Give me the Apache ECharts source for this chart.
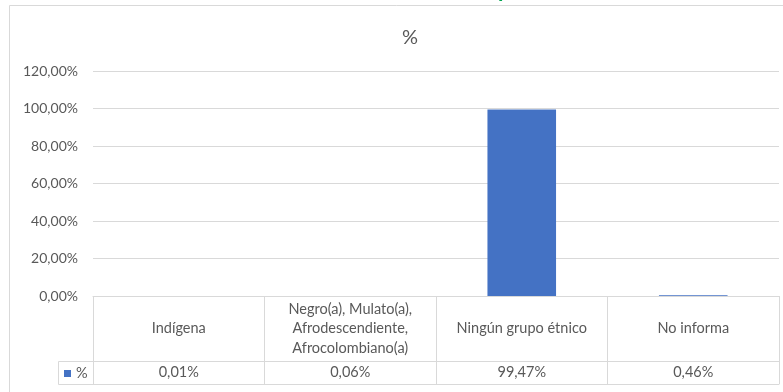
<!DOCTYPE html>
<html>
<head>
<meta charset="utf-8">
<script src="https://cdn.jsdelivr.net/npm/echarts@6/dist/echarts.min.js"></script>
<style>
  html, body { margin: 0; padding: 0; background: #fff; }
  #chart { width: 783px; height: 392px; }
</style>
</head>
<body>
<div id="chart"></div>
<script>
// Ethnic group shares (fraction of total)
const categories = [
  'Indígena',
  'Negro(a), Mulato(a),\nAfrodescendiente,\nAfrocolombiano(a)',
  'Ningún grupo étnico',
  'No informa'
];
const seriesName = '%';
const values = [0.0001, 0.0006, 0.9947, 0.0046];
const yTicks = [0, 0.2, 0.4, 0.6, 0.8, 1.0, 1.2];

const FONT = 'Lato, "Noto Sans", sans-serif';
const TXT = '#595959';
const LINE = '#d9d9d9';

// Spanish-style percentage: comma decimal separator, two decimals
function pct(v) {
  return (v * 100).toFixed(2).replace('.', ',') + '%';
}

// Layout of plot area and the data table under it
const G = { left: 93, right: 4, top: 71, bottom: 96 };
const catRowH = 65;   // height of the category row of the table
const valRowH = 23;   // height of the value row
const legendCellW = 35;

const chart = echarts.init(document.getElementById('chart'), null, { renderer: 'canvas' });

const plotBottom = 392 - G.bottom;

chart.setOption({
  animation: false,
  backgroundColor: '#fff',
  textStyle: { fontFamily: FONT },
  title: {
    text: seriesName,
    left: 405,
    textAlign: 'center',
    top: 23,
    textStyle: { color: TXT, fontSize: 20, fontWeight: 'normal', fontFamily: FONT }
  },
  grid: { left: G.left, right: G.right, top: G.top, bottom: G.bottom, containLabel: false },
  legend: {
    data: [seriesName],
    left: G.left - legendCellW + 6,
    top: plotBottom + catRowH + 5,
    itemWidth: 7,
    itemHeight: 7,
    itemGap: 4,
    padding: 0,
    icon: 'rect',
    textStyle: { color: TXT, fontSize: 14.5, fontFamily: FONT, padding: [0, 0, 0, 0] }
  },
  xAxis: [
    {
      type: 'category',
      data: categories,
      position: 'bottom',
      axisLine: { show: true, lineStyle: { color: LINE, width: 1 } },
      axisTick: { show: true, alignWithLabel: false, length: catRowH + valRowH, lineStyle: { color: LINE } },
      axisLabel: {
        color: TXT, fontSize: 14.5, fontFamily: FONT,
        verticalAlign: 'middle', align: 'center',
        margin: catRowH / 2, lineHeight: 19.5, interval: 0
      },
      splitLine: { show: false }
    },
    {
      type: 'category',
      data: values.map(pct),
      position: 'bottom',
      offset: catRowH,
      axisLine: { show: true, lineStyle: { color: LINE, width: 1 } },
      axisTick: { show: false },
      axisLabel: {
        color: TXT, fontSize: 14.5, fontFamily: FONT,
        verticalAlign: 'middle', margin: valRowH / 2, interval: 0
      }
    },
    {
      type: 'category',
      data: categories.map(() => ''),
      position: 'bottom',
      offset: catRowH + valRowH,
      axisLine: { show: true, lineStyle: { color: LINE, width: 1 } },
      axisTick: { show: false },
      axisLabel: { show: false }
    }
  ],
  yAxis: {
    type: 'value',
    min: yTicks[0],
    max: yTicks[yTicks.length - 1],
    interval: yTicks[1] - yTicks[0],
    axisLine: { show: false },
    axisTick: { show: false },
    axisLabel: { color: TXT, fontSize: 14, fontFamily: FONT, margin: 15, formatter: pct },
    splitLine: { lineStyle: { color: LINE, width: 1 } }
  },
  series: [
    {
      name: seriesName,
      type: 'bar',
      data: values,
      barWidth: '40%',
      itemStyle: { color: '#4472C4' }
    }
  ],
  graphic: [
    // outer chart frame
    {
      type: 'rect',
      shape: { x: 9.5, y: 5.5, width: 800, height: 420 },
      style: { fill: null, stroke: LINE, lineWidth: 1 },
      silent: true, z: -1
    },
    // legend key cell of the data table
    {
      type: 'rect',
      shape: { x: G.left - legendCellW + 0.5, y: plotBottom + catRowH + 0.5, width: legendCellW, height: valRowH },
      style: { fill: null, stroke: LINE, lineWidth: 1 },
      silent: true
    },
    // descender of the heading placed above the frame
    {
      type: 'text',
      style: { text: 'p', x: 498, y: 1, verticalAlign: 'bottom', fill: '#00A651', font: 'bold 22px ' + FONT },
      silent: true,
      z: 10
    }
  ]
});
</script>
</body>
</html>
